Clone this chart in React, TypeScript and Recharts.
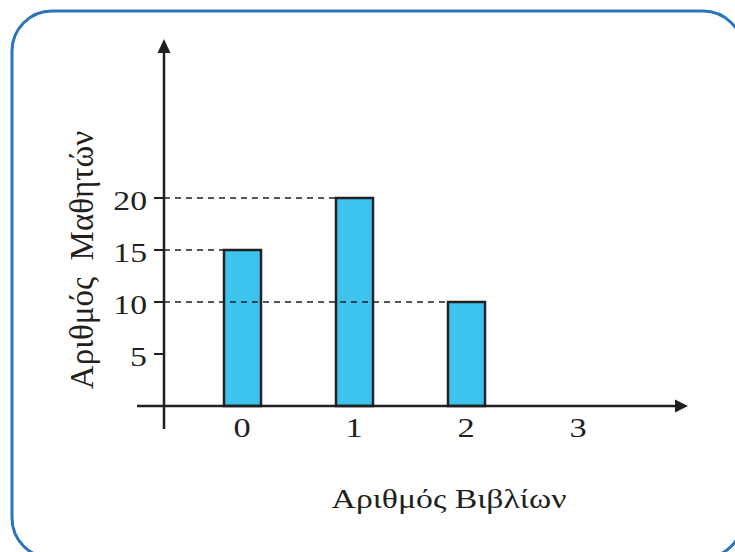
import React from "react";
import { BarChart, Bar, XAxis, YAxis } from "recharts";

const bookCounts = ["0", "1", "2", "3"];
const studentCounts = [15, 20, 10, 0];
const yTicks = [5, 10, 15, 20];
const yDomainMax = 35;
const xTitle = "Αριθμός Βιβλίων";
const yTitle = "Αριθμός  Μαθητών";

const data = bookCounts.map((b, i) => ({ books: b, students: studentCounts[i] }));

const W = 735;
const H = 552;
const PLOT_LEFT = 164;
const PLOT_RIGHT = 688;
const PLOT_TOP = 42;
const PLOT_BOTTOM = 406;
const X_AXIS_H = 40;
const INK = "#231f20";
const FONT = "'Liberation Serif', 'Times New Roman', serif";
const SX = 1.25;

const BarShape = (props: any) => {
  const { x, y, width, height } = props;
  if (!height || height <= 0) return null;
  return (
    <g>
      <line
        x1={PLOT_LEFT}
        x2={x}
        y1={y}
        y2={y}
        stroke={INK}
        strokeWidth={1.3}
        strokeDasharray="6 5"
      />
      <rect x={x} y={y} width={width} height={height} fill="#3cc4ef" stroke={INK} strokeWidth={2.5} />
    </g>
  );
};

const YTick = (props: any) => {
  const { x, y, payload } = props;
  return (
    <text
      transform={`translate(${x},${y + 12}) scale(${SX},1)`}
      textAnchor="end"
      fontSize={27}
      fill={INK}
      fontFamily={FONT}
    >
      {payload.value}
    </text>
  );
};

const XTick = (props: any) => {
  const { x, payload } = props;
  return (
    <text
      transform={`translate(${x},${PLOT_BOTTOM + 31}) scale(${SX},1)`}
      textAnchor="middle"
      fontSize={27.5}
      fill={INK}
      fontFamily={FONT}
    >
      {payload.value}
    </text>
  );
};

export default function App() {
  return (
    <div style={{ position: "absolute", left: 0, top: 0, width: W, height: H, background: "#fff", overflow: "hidden" }}>
      <BarChart
        width={W}
        height={H}
        data={data}
        margin={{ top: PLOT_TOP, right: W - PLOT_RIGHT, bottom: H - PLOT_BOTTOM - X_AXIS_H, left: 0 }}
      >
        <XAxis
          dataKey="books"
          height={X_AXIS_H}
          axisLine={false}
          tickLine={false}
          tickSize={0}
          padding={{ left: 22, right: 54 }}
          tick={<XTick />}
        />
        <YAxis
          width={PLOT_LEFT}
          domain={[0, yDomainMax]}
          ticks={yTicks}
          axisLine={false}
          tickLine={{ stroke: INK, strokeWidth: 2 }}
          tickSize={10}
          tickMargin={7}
          tick={<YTick />}
        />
        <Bar dataKey="students" barSize={37} shape={<BarShape />} isAnimationActive={false} />
      </BarChart>
      <svg
        width={W}
        height={H}
        style={{ position: "absolute", left: 0, top: 0, pointerEvents: "none" }}
      >
        <rect x={12} y={11} width={731} height={547} rx={40} ry={40} fill="none" stroke="#2b74b9" strokeWidth={3} />
        {/* y axis */}
        <line x1={PLOT_LEFT} x2={PLOT_LEFT} y1={429} y2={50} stroke={INK} strokeWidth={2.5} />
        <polygon points={`${PLOT_LEFT},39 ${PLOT_LEFT - 6.5},53 ${PLOT_LEFT + 6.5},53`} fill={INK} />
        {/* x axis */}
        <line x1={137} x2={680} y1={PLOT_BOTTOM} y2={PLOT_BOTTOM} stroke={INK} strokeWidth={2.5} />
        <polygon points={`${PLOT_RIGHT},${PLOT_BOTTOM} ${PLOT_RIGHT - 13},${PLOT_BOTTOM - 6.5} ${PLOT_RIGHT - 13},${PLOT_BOTTOM + 6.5}`} fill={INK} />
        <text
          transform={`translate(449,508) scale(${SX},1)`}
          textAnchor="middle"
          fontSize={27}
          fill={INK}
          fontFamily={FONT}
        >
          {xTitle}
        </text>
        <text
          transform={`translate(93,260) scale(1.05,1) rotate(-90)`}
          textAnchor="middle"
          fontSize={33}
          fill={INK}
          fontFamily={FONT}
          style={{ whiteSpace: "pre" }}
        >
          {yTitle}
        </text>
      </svg>
    </div>
  );
}
